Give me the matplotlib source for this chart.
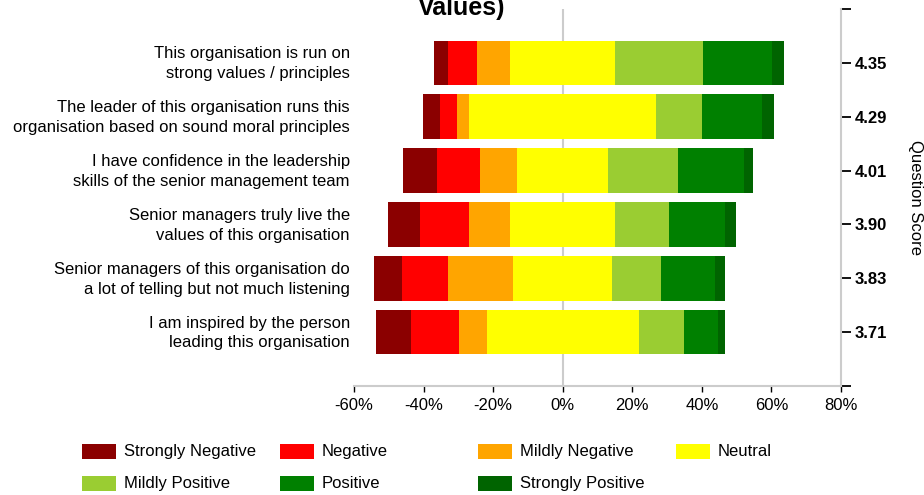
import matplotlib
matplotlib.use("Agg")
import matplotlib.pyplot as plt
from matplotlib.patches import Rectangle
from matplotlib.transforms import ScaledTranslation
import numpy as np

plt.rcParams['font.family'] = ['Liberation Sans', 'DejaVu Sans']

questions = [
    "This organisation is run on\nstrong values / principles",
    "The leader of this organisation runs this\norganisation based on sound moral principles",
    "I have confidence in the leadership\nskills of the senior management team",
    "Senior managers truly live the\nvalues of this organisation",
    "Senior managers of this organisation do\na lot of telling but not much listening",
    "I am inspired by the person\nleading this organisation",
]
scores = ["4.35", "4.29", "4.01", "3.90", "3.83", "3.71"]

categories = ["Strongly Negative", "Negative", "Mildly Negative", "Neutral",
              "Mildly Positive", "Positive", "Strongly Positive"]
colors = ["#8B0000", "#FF0000", "#FFA500", "#FFFF00", "#9ACD32", "#008000", "#006400"]

strongly_negative = [4.0, 4.9, 9.8, 9.2, 8.1, 10.3]
negative          = [8.4, 4.9, 12.1, 14.1, 13.2, 13.8]
mildly_negative   = [9.5, 3.5, 10.9, 11.8, 18.8, 7.8]
neutral           = [30.3, 53.6, 26.0, 30.3, 28.5, 43.8]
mildly_positive   = [25.3, 13.3, 20.2, 15.5, 14.1, 13.0]
positive          = [19.6, 17.2, 19.0, 15.9, 15.3, 9.8]
strongly_positive = [3.5, 3.5, 2.6, 3.4, 2.9, 2.0]

xticks = [-60, -40, -20, 0, 20, 40, 60, 80]

series = [strongly_negative, negative, mildly_negative, neutral,
          mildly_positive, positive, strongly_positive]
vals = np.array(series, dtype=float)

W, H = 924, 495
fig = plt.figure(figsize=(W / 100, H / 100), dpi=100)
ax = fig.add_axes([354 / W, 1 - 386 / H, (841 - 354) / W, (386 - 9) / H])

y = np.arange(len(questions))
start = -(vals[0] + vals[1] + vals[2] + vals[3] / 2)
left = start.copy()
for i in range(len(categories)):
    ax.barh(y, vals[i], left=left, height=0.83, color=colors[i], linewidth=0, zorder=3)
    left = left + vals[i]

ax.set_xlim(-60, 80)
ax.set_ylim(len(questions), -1)
ax.axvline(0, color="#cccccc", lw=1.5, zorder=1)

ax.set_xticks(xticks)
ax.set_xticklabels([f"{t}%" for t in xticks], fontsize=12)
ax.tick_params(axis='x', direction='out', length=4, width=1, color='black', pad=5)

ax.set_yticks(y)
ax.set_yticklabels(questions, fontsize=12, linespacing=1.4)
ax.tick_params(axis='y', length=0, pad=3)
shift = ScaledTranslation(0, 3 / 100, fig.dpi_scale_trans)
for lbl in ax.get_yticklabels():
    lbl.set_transform(lbl.get_transform() + shift)

for s in ['top', 'left', 'right']:
    ax.spines[s].set_visible(False)
ax.spines['bottom'].set_color('#cccccc')
ax.spines['bottom'].set_linewidth(1.5)

ax2 = ax.twinx()
ax2.set_ylim(ax.get_ylim())
ax2.set_yticks([-1] + list(y) + [len(questions)])
ax2.set_yticklabels([""] + scores + [""], fontsize=12, fontweight='bold')
ax2.tick_params(axis='y', direction='out', length=7, width=1.3, color='black', pad=3)
for s in ['top', 'left', 'bottom']:
    ax2.spines[s].set_visible(False)
ax2.spines['right'].set_color('#cccccc')
ax2.spines['right'].set_linewidth(1.5)
ax2.set_ylabel("Question Score", rotation=270, fontsize=12, labelpad=26)

fig.text(462 / W, 1 - 15 / H, "Values)", ha='center', va='baseline',
         fontsize=18, fontweight='bold')

# legend (row-major, 4 columns)
for k, (lab, col) in enumerate(zip(categories, colors)):
    r, c = divmod(k, 4)
    x0 = 82 + 198 * c
    y0 = 444 + 32 * r
    fig.add_artist(Rectangle((x0 / W, 1 - (y0 + 15) / H), 34 / W, 15 / H,
                             transform=fig.transFigure, color=col, lw=0))
    fig.text((x0 + 42) / W, 1 - (y0 + 7.5) / H, lab, ha='left', va='center', fontsize=12)

fig.savefig("out.png", dpi=100)
